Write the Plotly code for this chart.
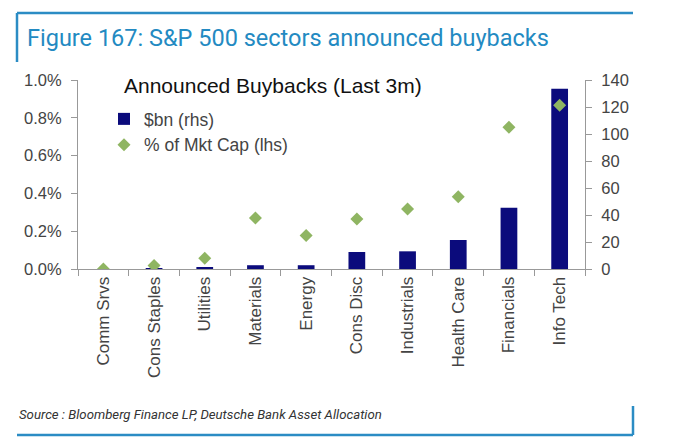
import plotly.graph_objects as go

sectors = ["Comm Srvs", "Cons Staples", "Utilities", "Materials", "Energy",
           "Cons Disc", "Industrials", "Health Care", "Financials", "Info Tech"]
buybacks_bn = [0.0, 0.3, 0.8, 2.8, 2.8, 12.6, 13.1, 21.5, 45.4, 133.5]
pct_mkt_cap = [0.000, 0.018, 0.057, 0.270, 0.177, 0.265, 0.318, 0.382, 0.750, 0.866]
left_ticks = [0.0, 0.2, 0.4, 0.6, 0.8, 1.0]
left_tick_text = ["0.0%", "0.2%", "0.4%", "0.6%", "0.8%", "1.0%"]
right_ticks = [0, 20, 40, 60, 80, 100, 120, 140]

W, H = 680, 447
L, R, T, B = 78, 585, 80, 269


def px(x):
    return (x - L) / (R - L)


def py(y):
    return (B - y) / (B - T)


SANS = "Liberation Sans, Arial, sans-serif"
AX_FONT = dict(family=SANS, size=16.5, color="#444444")
FRAME = "#2b8cc4"

fig = go.Figure()
fig.add_trace(go.Bar(
    x=sectors, y=buybacks_bn, name="$bn (rhs)", yaxis="y",
    marker=dict(color="#0b0b7c", line=dict(width=0)), width=0.33,
))
fig.add_trace(go.Scatter(
    x=sectors, y=pct_mkt_cap, name="% of Mkt Cap (lhs)", yaxis="y2", mode="markers",
    marker=dict(symbol="diamond", size=10, color="#8fb562"),
))

fig.update_layout(
    width=W, height=H,
    margin=dict(l=L, r=W - R, t=T, b=H - B, pad=0),
    paper_bgcolor="white", plot_bgcolor="white",
    showlegend=True,
    title=dict(text="Figure 167: S&P 500 sectors announced buybacks",
               x=27 / W, xanchor="left", y=1 - 38 / H, yanchor="middle",
               font=dict(family="Roboto, sans-serif", size=23.5, color="#238ac2")),
    xaxis=dict(
        type="category", showline=True, linecolor="#999999", linewidth=1,
        ticks="outside", tickson="boundaries", ticklen=6, tickcolor="#999999",
        tickangle=-90, tickfont=dict(family=SANS, size=17, color="#444444"),
        showgrid=False, zeroline=False, range=[-0.5, 9.5],
    ),
    yaxis=dict(
        side="right", range=[0, 140], tickvals=right_ticks,
        showline=True, linecolor="#999999", linewidth=1, ticks="outside",
        ticklen=6, tickcolor="#999999", tickfont=AX_FONT, showgrid=False,
        zeroline=False, ticklabelstandoff=6,
    ),
    yaxis2=dict(
        overlaying="y", side="left", range=[0, 1.0], tickvals=left_ticks,
        ticktext=left_tick_text, showline=True, linecolor="#999999", linewidth=1,
        ticks="outside", ticklen=6, tickcolor="#999999", tickfont=AX_FONT,
        showgrid=False, zeroline=False, ticklabelstandoff=6,
    ),
    legend=dict(
        x=px(104), xanchor="left", y=py(101), yanchor="top",
        bgcolor="rgba(0,0,0,0)",
        font=dict(family=SANS, size=17.5, color="#444444"),
        traceorder="grouped", tracegroupgap=11, itemwidth=30,
    ),
    shapes=[
        dict(type="line", xref="paper", yref="paper", x0=px(17), x1=px(633), y0=py(13), y1=py(13),
             line=dict(color=FRAME, width=2.5)),
        dict(type="line", xref="paper", yref="paper", x0=px(17), x1=px(17), y0=py(13), y1=py(62),
             line=dict(color=FRAME, width=2.5)),
        dict(type="line", xref="paper", yref="paper", x0=px(17), x1=px(633), y0=py(435), y1=py(435),
             line=dict(color=FRAME, width=2.5)),
        dict(type="line", xref="paper", yref="paper", x0=px(633), x1=px(633), y0=py(406), y1=py(435),
             line=dict(color=FRAME, width=2.5)),
    ],
    annotations=[
        dict(text="Announced Buybacks (Last 3m)",
             xref="paper", yref="paper", x=px(122), y=py(85), xanchor="left", yanchor="middle",
             showarrow=False, font=dict(family=SANS, size=21, color="#111111")),
        dict(text="<i>Source : Bloomberg Finance LP, Deutsche Bank Asset Allocation</i>",
             xref="paper", yref="paper", x=px(17), y=py(414), xanchor="left", yanchor="middle",
             showarrow=False,
             font=dict(family="Roboto, sans-serif", size=13.2, color="#333333")),
    ],
)

fig.write_html("out.html", config={"displayModeBar": False},
               post_script="document.body.style.margin='0';")
